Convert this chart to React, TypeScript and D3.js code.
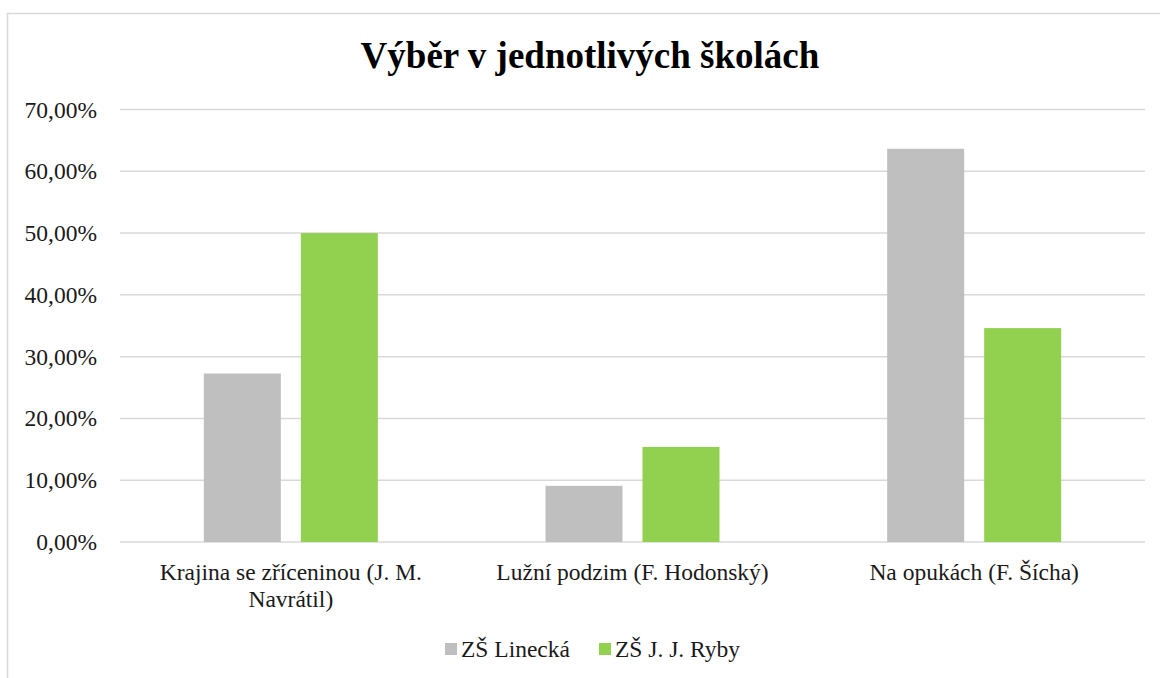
import * as d3 from "d3";
import { useEffect, useRef } from "react";

const categories = [
  "Krajina se zříceninou (J. M. Navrátil)",
  "Lužní podzim (F. Hodonský)",
  "Na opukách (F. Šícha)",
];
const seriesNames = ["ZŠ Linecká", "ZŠ J. J. Ryby"];
const linecka = [27.27, 9.09, 63.64];
const ryby = [50.0, 15.38, 34.62];
const yTicks = [0, 10, 20, 30, 40, 50, 60, 70];
const colors = ["#BFBFBF", "#92D050"];

const W = 1161;
const H = 678;
const font = "Liberation Serif, Times New Roman, serif";

const dims = {
  plotLeft: 120,
  plotRight: 1145,
  plotTop: 109.5,
  plotBottom: 542,
};

function wrap(sel: any, width: number) {
  sel.each(function (this: SVGTextElement) {
    const text = d3.select(this);
    const words = text.text().split(/\s+/);
    const x = text.attr("x");
    const y = text.attr("y");
    text.text(null);
    let line: string[] = [];
    let lineNo = 0;
    let tspan = text.append("tspan").attr("x", x).attr("y", y);
    words.forEach((w) => {
      line.push(w);
      tspan.text(line.join(" "));
      if ((tspan.node() as SVGTextContentElement).getComputedTextLength() > width && line.length > 1) {
        line.pop();
        tspan.text(line.join(" "));
        line = [w];
        lineNo++;
        tspan = text
          .append("tspan")
          .attr("x", x)
          .attr("y", +y + lineNo * 27)
          .text(w);
      }
    });
  });
}

export default function App() {
  const ref = useRef<SVGSVGElement>(null);

  useEffect(() => {
    const svg = d3.select(ref.current);
    svg.selectAll("*").remove();
    const { plotLeft, plotRight, plotTop, plotBottom } = dims;

    const x0 = d3.scaleBand().domain(categories).range([plotLeft, plotRight]);
    const y = d3.scaleLinear().domain([0, 70]).range([plotBottom, plotTop]);

    // chart frame
    svg
      .append("path")
      .attr("d", `M7.5,${H} L7.5,13.5 L${W - 1},13.5`)
      .attr("fill", "none")
      .attr("stroke", "#D9D9D9")
      .attr("stroke-width", 1.5);

    svg
      .append("text")
      .attr("x", 590)
      .attr("y", 68)
      .attr("text-anchor", "middle")
      .attr("font-family", font)
      .attr("font-weight", "bold")
      .attr("font-size", 37)
      .text("Výběr v jednotlivých školách");

    // gridlines
    svg
      .append("g")
      .selectAll("line")
      .data(yTicks)
      .enter()
      .append("line")
      .attr("x1", plotLeft)
      .attr("x2", plotRight)
      .attr("y1", (d) => y(d))
      .attr("y2", (d) => y(d))
      .attr("stroke", "#D9D9D9")
      .attr("stroke-width", 1.5);

    svg
      .append("g")
      .selectAll("text")
      .data(yTicks)
      .enter()
      .append("text")
      .attr("x", 97)
      .attr("y", (d) => y(d) + 8)
      .attr("text-anchor", "end")
      .attr("font-family", font)
      .attr("font-size", 23.5)
      .attr("fill", "#1a1a1a")
      .text((d) => d.toFixed(2).replace(".", ",") + "%");

    const barW = 77;
    const gap = 20;
    const series = [linecka, ryby];
    series.forEach((vals, si) => {
      svg
        .append("g")
        .selectAll("rect")
        .data(vals)
        .enter()
        .append("rect")
        .attr("x", (d, i) => {
          const c = (x0(categories[i]) as number) + x0.bandwidth() / 2;
          return si === 0 ? c - gap / 2 - barW : c + gap / 2;
        })
        .attr("y", (d) => y(d))
        .attr("width", barW)
        .attr("height", (d) => plotBottom - y(d))
        .attr("fill", colors[si]);
    });

    svg
      .append("g")
      .selectAll("text")
      .data(categories)
      .enter()
      .append("text")
      .attr("x", (d) => (x0(d) as number) + x0.bandwidth() / 2)
      .attr("y", 580)
      .attr("text-anchor", "middle")
      .attr("font-family", font)
      .attr("font-size", 23.5)
      .attr("fill", "#1a1a1a")
      .text((d) => d)
      .call(wrap, 300);

    // legend
    const legendX = [445, 599];
    seriesNames.forEach((name, i) => {
      svg
        .append("rect")
        .attr("x", legendX[i])
        .attr("y", 643)
        .attr("width", 12)
        .attr("height", 12)
        .attr("fill", colors[i]);
      svg
        .append("text")
        .attr("x", legendX[i] + 16)
        .attr("y", 657)
        .attr("font-family", font)
        .attr("font-size", 23.5)
        .attr("fill", "#1a1a1a")
        .text(name);
    });
  }, []);

  return (
    <div style={{ position: "absolute", left: 0, top: 0 }}>
      <svg ref={ref} width={W} height={H} style={{ display: "block", background: "#fff" }}></svg>
    </div>
  );
}
